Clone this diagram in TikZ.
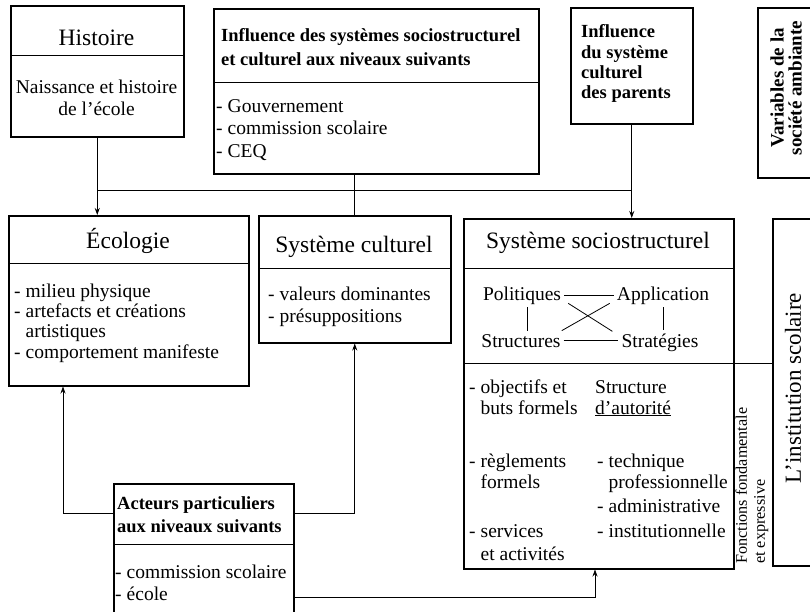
\documentclass[tikz,border=0pt]{standalone}
\usepackage{fontspec}
\setmainfont{Liberation Serif}
\usetikzlibrary{arrows.meta,calc}
\newcommand\dd{-\hspace{5pt}}
\begin{document}
\begin{tikzpicture}[x=1pt,y=-1pt,
  box/.style={draw, line width=1.5pt, inner sep=0pt, anchor=north west},
  divl/.style={line width=0.9pt},
  conn/.style={line width=0.8pt},
  arr/.style={conn, -{Stealth[length=7pt,width=5pt]}},
  txt/.style={inner sep=0pt, anchor=base west, font=\fontsize{19.5}{21}\selectfont},
  ctxt/.style={inner sep=0pt, anchor=base, font=\fontsize{19.5}{21}\selectfont},
  mid/.style={inner sep=3pt, anchor=base, font=\fontsize{19.5}{21}\selectfont},
  ttl/.style={inner sep=0pt, anchor=base, font=\fontsize{23.5}{26}\selectfont},
  hd/.style={inner sep=0pt, anchor=base west, font=\bfseries\fontsize{18.5}{21}\selectfont}]
\useasboundingbox (0,0) rectangle (810,611);
\fill[white] (0,0) rectangle (810,611);
\clip (0,0) rectangle (810,611);

% boxes
\node[box, minimum width=173pt, minimum height=131pt] (hist) at (10,5) {};
\node[box, minimum width=325pt, minimum height=165pt] (infl) at (213,8) {};
\node[box, minimum width=122pt, minimum height=116pt] (par) at (570,7) {};
\node[box, minimum width=60pt, minimum height=170pt] (var) at (757,7) {};
\node[box, minimum width=240pt, minimum height=170pt] (eco) at (8,215) {};
\node[box, minimum width=192pt, minimum height=127pt] (cult) at (258,215) {};
\node[box, minimum width=270pt, minimum height=350pt] (soc) at (463,218) {};
\node[box, minimum width=45pt, minimum height=347pt] (inst) at (772,218) {};
\node[box, minimum width=180pt, minimum height=140pt] (act) at (113,483) {};

% dividers
\draw[divl] ([yshift=-50pt]hist.north west) -- ([yshift=-50pt]hist.north east);
\draw[divl] ([yshift=-74pt]infl.north west) -- ([yshift=-74pt]infl.north east);
\draw[divl] ([yshift=-48pt]eco.north west) -- ([yshift=-48pt]eco.north east);
\draw[divl] ([yshift=-53pt]cult.north west) -- ([yshift=-53pt]cult.north east);
\draw[divl] ([yshift=-50pt]soc.north west) -- ([yshift=-50pt]soc.north east);
\draw[divl] ([yshift=-145pt]soc.north west) -- ([yshift=-145pt]soc.north east);
\draw[divl] ([yshift=-61pt]act.north west) -- ([yshift=-61pt]act.north east);

% Histoire
\node[ttl] (histt) at (96.5,45) {Histoire};
\node[ctxt] (hist1) at (96.5,93) {Naissance et histoire};
\node[ctxt] (hist2) at (96.5,115) {de l’école};

% Influence (middle)
\node[hd] (infl1) at (221,41) {Influence des systèmes sociostructurel};
\node[hd] (infl2) at (221,65) {et culturel aux niveaux suivants};
\node[txt] (infl3) at (216,112) {\dd Gouvernement};
\node[txt] (infl4) at (216,134.5) {\dd commission scolaire};
\node[txt] (infl5) at (216,157) {\dd CEQ};

% parents
\node[hd] (par1) at (581,37) {Influence};
\node[hd] (par2) at (581,58) {du système};
\node[hd] (par3) at (581,78) {culturel};
\node[hd] (par4) at (581,98) {des parents};

% variables
\node[rotate=90, align=center, inner sep=0pt, font=\bfseries\fontsize{19}{18}\selectfont] (vart) at (786,88) {Variables de la\\société ambiante};

% Ecologie
\node[ttl] (ecot) at (128,248) {Écologie};
\node[txt] (eco1) at (14,297) {\dd milieu physique};
\node[txt] (eco2) at (14,317) {\dd artefacts et créations};
\node[txt] (eco3) at (14,337) {\hphantom{\dd}artistiques};
\node[txt] (eco4) at (14,358) {\dd comportement manifeste};

% Systeme culturel
\node[ttl] (cultt) at (354,252) {Système culturel};
\node[txt] (cult1) at (268,300) {\dd valeurs dominantes};
\node[txt] (cult2) at (268,322) {\dd présuppositions};

% Systeme sociostructurel
\node[ttl] (soct) at (598,248) {Système sociostructurel};
\node[mid] (pol) at (522,300) {Politiques};
\node[mid] (app) at (663,300) {Application};
\node[mid] (str) at (521,347) {Structures};
\node[mid] (stg) at (660,347) {Stratégies};
\draw[conn] (pol.east) -- (app.west);
\draw[conn] (str.east) -- (str.east -| stg.west);
\draw[conn] ([xshift=5pt]pol.south) -- ([xshift=5pt]pol.south |- str.north);
\draw[conn] (app.south) -- (app.south |- stg.north);
\draw[conn] ($(pol.east)+(4,8)$) -- ($(stg.west)+(-6,-11)$);
\draw[conn] ($(app.west)+(-4,8)$) -- ($(str.east)+(-2,-10)$);

\node[txt] (c1a) at (469,393) {\dd objectifs et};
\node[txt] (c1b) at (469,414) {\hphantom{\dd}buts formels};
\node[txt] (c1c) at (469,467) {\dd règlements};
\node[txt] (c1d) at (469,488) {\hphantom{\dd}formels};
\node[txt] (c1e) at (469,537) {\dd services};
\node[txt] (c1f) at (469,560) {\hphantom{\dd}et activités};
\node[txt] (c2a) at (595,393) {Structure};
\node[txt] (c2b) at (595,414) {\underline{d’autorité}};
\node[txt] (c2c) at (597,467) {\dd technique};
\node[txt] (c2d) at (597,488) {\hphantom{\dd}professionnelle};
\node[txt] (c2e) at (597,512) {\dd administrative};
\node[txt] (c2f) at (597,537) {\dd institutionnelle};

% Fonctions / institution
\node[rotate=90, anchor=west, align=left, inner sep=0pt, font=\fontsize{16.2}{18}\selectfont] (fct) at (752,564) {Fonctions fondamentale\\et expressive};
\node[rotate=90, inner sep=0pt, font=\fontsize{23}{26}\selectfont] (instt) at (793,388) {L’institution scolaire};
\draw[divl] ([yshift=-145pt]soc.north east) -- ([yshift=-145pt]soc.north east -| inst.west);

% Acteurs
\node[hd] (act1) at (117,509) {Acteurs particuliers};
\node[hd] (act2) at (117,532) {aux niveaux suivants};
\node[txt] (act3) at (115,578) {\dd commission scolaire};
\node[txt] (act4) at (115,600) {\dd école};

% connectors
\coordinate (bus) at (0,190);
\draw[arr] (hist.south) -- (hist.south |- eco.north);
\draw[conn] (hist.south |- bus) -- (par.south |- bus);
\draw[conn] (cult.north |- infl.south) -- (cult.north);
\draw[arr] (par.south) -- (par.south |- soc.north);
\draw[arr] ([yshift=-30pt]act.north west) -| ([xshift=55pt]eco.south west);
\draw[arr] ([yshift=-30pt]act.north east) -| (cult.south);
\draw[arr] ([yshift=-114pt]act.north east) -| ([xshift=132pt]soc.south west);
\end{tikzpicture}
\end{document}
